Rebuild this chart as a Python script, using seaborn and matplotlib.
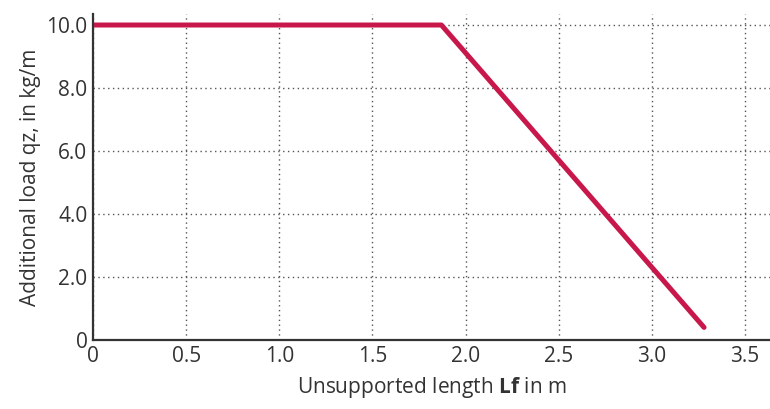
import matplotlib
matplotlib.use("Agg")
import matplotlib.pyplot as plt
import pandas as pd
import seaborn as sns

# load curve: constant up to the knee, then falling linearly
length_m = [0.0, 1.87, 3.28]
load_kg_m = [10.0, 10.0, 0.4]
x_ticks = [0, 0.5, 1.0, 1.5, 2.0, 2.5, 3.0, 3.5]
x_labels = ["0", "0.5", "1.0", "1.5", "2.0", "2.5", "3.0", "3.5"]
y_ticks = [0, 2, 4, 6, 8, 10]
y_labels = ["0", "2.0", "4.0", "6.0", "8.0", "10.0"]

df = pd.DataFrame({"Lf": length_m, "qz": load_kg_m})

sns.set_style("white")
plt.rcParams["font.family"] = ["Open Sans", "DejaVu Sans"]
plt.rcParams["mathtext.fontset"] = "custom"
plt.rcParams["mathtext.bf"] = "Open Sans:bold"
plt.rcParams["mathtext.rm"] = "Open Sans"

txt = "#333333"
fig = plt.figure(figsize=(7.7, 4.09), dpi=100)
ax = fig.add_axes([0.1208, 0.1687, 0.8792, 0.7971])

sns.lineplot(data=df, x="Lf", y="qz", color="#C8174A", linewidth=3.6, ax=ax)

ax.set_xlim(0, 3.634)
ax.set_ylim(0, 10.35)
ax.set_xticks(x_ticks)
ax.set_xticklabels(x_labels)
ax.set_yticks(y_ticks)
ax.set_yticklabels(y_labels)
ax.tick_params(labelsize=15, colors=txt, length=3, width=1, pad=1)

ax.grid(True, linestyle=(0, (1, 2.5)), color="#555555", linewidth=1)
for s in ["top", "right"]:
    ax.spines[s].set_visible(False)
for s in ["left", "bottom"]:
    ax.spines[s].set_color("#333333")
    ax.spines[s].set_linewidth(1.6)

ax.set_xlabel(r"Unsupported length $\mathbf{Lf}$ in m", fontsize=15, color=txt, labelpad=6)
ax.set_ylabel("Additional load qz, in kg/m", fontsize=15, color=txt,
              family=["Liberation Sans Narrow", "Open Sans", "DejaVu Sans"], labelpad=4)

fig.savefig("out.png", dpi=100)
